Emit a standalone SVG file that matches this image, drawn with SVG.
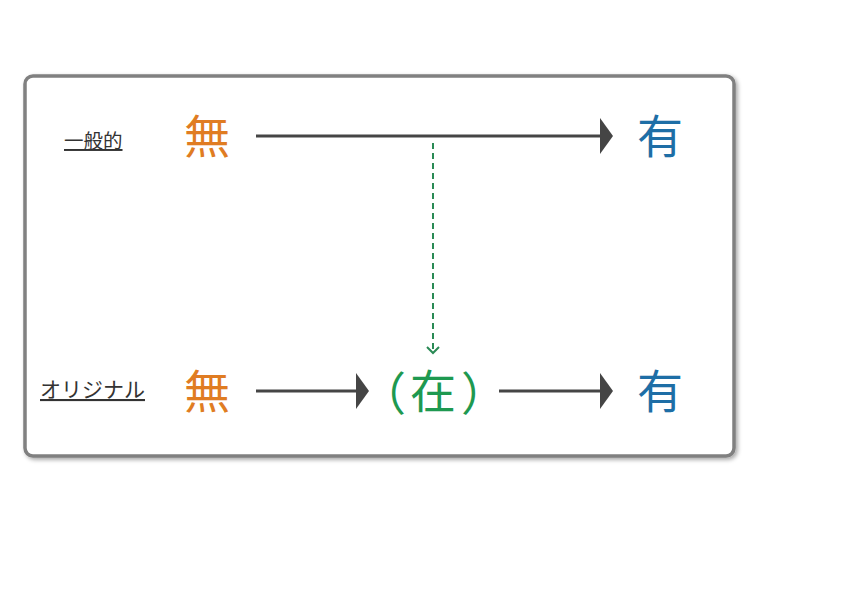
<svg xmlns="http://www.w3.org/2000/svg" width="860" height="613" viewBox="0 0 860 613">
<defs>
<style>
.lbl{font-family:"Noto Sans CJK JP","Noto Sans CJK SC",sans-serif;fill:#333;text-decoration:underline}
.big{font-family:"Noto Sans CJK JP","Noto Sans CJK SC",sans-serif;font-size:46px}
.mu{fill:#E07C22}.yu{fill:#1E6EA6}.zai{fill:#1E9950}
.ar{stroke:#454545;stroke-width:3;fill:none}
.ah{fill:#454545}
.dash{stroke:#2A8A55;stroke-width:2;fill:none}
</style>
<filter id="sh" x="-5%" y="-5%" width="110%" height="110%"><feDropShadow dx="2" dy="2" stdDeviation="2" flood-color="#000" flood-opacity="0.35"/></filter>
</defs>
<rect id="frame" x="25" y="76" width="709" height="380" rx="8" fill="#fff" stroke="#808080" stroke-width="3.5" filter="url(#sh)"/>
<g id="label-general"><text class="lbl" x="64" y="148" font-size="19.5">一般的</text></g>
<g id="label-original"><text class="lbl" x="40" y="397" font-size="21">オリジナル</text></g>
<g id="mu-top"><text class="big mu" x="184" y="153">無</text></g>
<g id="yu-top"><text class="big yu" x="637" y="153">有</text></g>
<g id="mu-bottom"><text class="big mu" x="184" y="408">無</text></g>
<g id="zai"><text class="big zai" x="360" y="410" font-size="48">（</text><text class="big zai" x="410" y="408">在</text><text class="big zai" x="461" y="410" font-size="48">）</text></g>
<g id="yu-bottom"><text class="big yu" x="637" y="408">有</text></g>
<g id="connectors">
<line class="ar" x1="256" y1="136" x2="602" y2="136"/>
<polygon class="ah" points="600,118 613,136 600,154"/>
<line class="ar" x1="256" y1="391" x2="358" y2="391"/>
<polygon class="ah" points="356,373 369,391 356,409"/>
<line class="ar" x1="499" y1="391" x2="602" y2="391"/>
<polygon class="ah" points="600,373 613,391 600,409"/>
<line class="dash" x1="433" y1="143" x2="433" y2="353" stroke-dasharray="6,4"/>
<polyline class="dash" points="427,347 433,353 439,347"/>
</g>
</svg>
